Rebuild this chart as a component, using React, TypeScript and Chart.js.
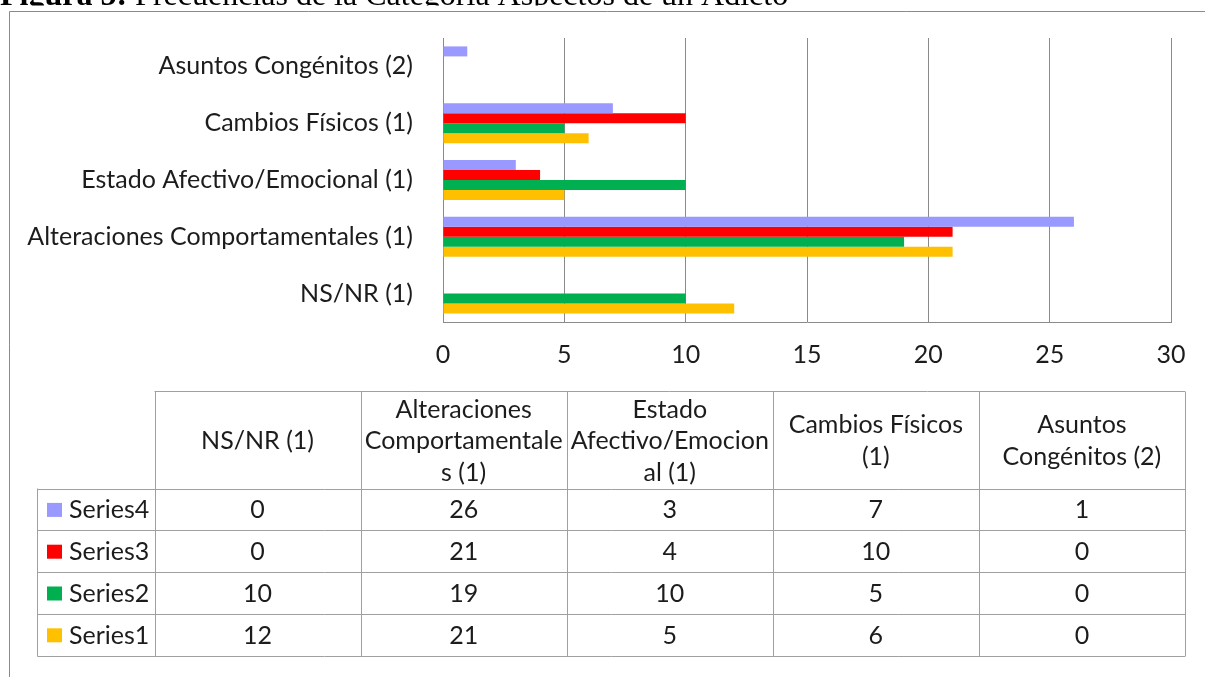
import React, { useEffect, useRef } from "react";
import { Chart, registerables } from "chart.js";

Chart.register(...registerables);

const categories = [
  "NS/NR (1)",
  "Alteraciones Comportamentales (1)",
  "Estado Afectivo/Emocional (1)",
  "Cambios Físicos (1)",
  "Asuntos Congénitos (2)",
];
const headerLines = [
  ["NS/NR (1)"],
  ["Alteraciones", "Comportamentale", "s (1)"],
  ["Estado", "Afectivo/Emocion", "al (1)"],
  ["Cambios Físicos", "(1)"],
  ["Asuntos", "Congénitos (2)"],
];
const seriesNames = ["Series4", "Series3", "Series2", "Series1"];
const series4 = [0, 26, 3, 7, 1];
const series3 = [0, 21, 4, 10, 0];
const series2 = [10, 19, 10, 5, 0];
const series1 = [12, 21, 5, 6, 0];
const seriesColors = ["#9999FF", "#FF0000", "#00B050", "#FFC000"];
const xMin = 0;
const xMax = 30;
const xStep = 5;
const titleBold = "Figura 5:";
const titleRest = " Frecuencias de la Categoría Aspectos de un Adicto";

const FONT = "Lato";
const FS = 25;
const TEXT = "#1c1c1c";
const GRID = "#8a8a8a";
const TABLE_LINE = "#a0a0a0";

const tablePlugin = {
  id: "extras",
  beforeDraw(chart: any) {
    const ctx = chart.ctx;
    ctx.save();
    ctx.beginPath();
    ctx.rect(0, 0, 1205, 5.5);
    ctx.clip();
    ctx.fillStyle = "#000";
    ctx.textBaseline = "alphabetic";
    ctx.textAlign = "left";
    ctx.font = "bold 32px 'Liberation Serif'";
    ctx.fillText(titleBold, 0, 4.5);
    const w = ctx.measureText(titleBold).width;
    ctx.font = "32px 'Liberation Serif'";
    ctx.fillText(titleRest, w, 4.5);
    ctx.restore();

    ctx.save();
    ctx.strokeStyle = GRID;
    ctx.lineWidth = 1;
    ctx.beginPath();
    ctx.moveTo(9.5, 700);
    ctx.lineTo(9.5, 11.5);
    ctx.lineTo(1300, 11.5);
    ctx.stroke();
    ctx.restore();
  },
  afterDraw(chart: any) {
    const ctx = chart.ctx;
    const legLeft = 37.5;
    const dataLeft = 154.5;
    const right = 1185;
    const colW = (right - dataLeft) / categories.length;
    const headTop = 391.5;
    const headBottom = 488.5;
    const rowH = 41.8;
    const rows = [series4, series3, series2, series1];
    const bottom = headBottom + rowH * rows.length;

    ctx.save();
    ctx.strokeStyle = TABLE_LINE;
    ctx.lineWidth = 1;
    ctx.beginPath();
    ctx.moveTo(dataLeft, headTop);
    ctx.lineTo(right, headTop);
    for (let i = 0; i <= rows.length; i++) {
      const y = Math.round(headBottom + rowH * i) + 0.5;
      ctx.moveTo(legLeft, y);
      ctx.lineTo(right, y);
    }
    ctx.moveTo(legLeft, headBottom);
    ctx.lineTo(legLeft, Math.round(bottom) + 0.5);
    for (let c = 0; c <= categories.length; c++) {
      const x = Math.round(dataLeft + colW * c) + 0.5;
      ctx.moveTo(x, headTop);
      ctx.lineTo(x, Math.round(bottom) + 0.5);
    }
    ctx.stroke();

    ctx.fillStyle = TEXT;
    ctx.font = `${FS}px ${FONT}`;
    ctx.textAlign = "center";
    ctx.textBaseline = "middle";
    const headMid = (headTop + headBottom) / 2 + 1;
    const lh = 31.5;
    headerLines.forEach((lines, c) => {
      const cx = dataLeft + colW * (c + 0.5);
      const y0 = headMid - ((lines.length - 1) * lh) / 2;
      lines.forEach((t, k) => ctx.fillText(t, cx, y0 + k * lh));
    });
    rows.forEach((vals, r) => {
      const cy = headBottom + rowH * (r + 0.5) + 1;
      vals.forEach((v, c) => {
        ctx.fillText(String(v), dataLeft + colW * (c + 0.5), cy);
      });
      ctx.fillStyle = seriesColors[r];
      ctx.fillRect(47, cy - 7.5, 15, 14);
      ctx.fillStyle = TEXT;
      ctx.textAlign = "left";
      ctx.fillText(seriesNames[r], 69, cy);
      ctx.textAlign = "center";
    });
    ctx.restore();
  },
};

export default function App() {
  const ref = useRef<HTMLCanvasElement>(null);
  useEffect(() => {
    if (!ref.current) return;
    Chart.defaults.font.family = FONT;
    const seriesData = [series4, series3, series2, series1];
    const chart = new Chart(ref.current, {
      type: "bar",
      data: {
        labels: [...categories].reverse(),
        datasets: seriesData.map((d, i) => ({
          label: seriesNames[i],
          data: [...d].reverse(),
          backgroundColor: seriesColors[i],
          borderWidth: 0,
          categoryPercentage: 0.704,
          barPercentage: 1,
        })),
      },
      options: {
        indexAxis: "y",
        responsive: false,
        animation: false,
        layout: { padding: { left: 10, right: 34, top: 38, bottom: 0 } },
        plugins: {
          legend: { display: false },
          tooltip: { enabled: false },
          title: { display: false },
        },
        scales: {
          x: {
            min: xMin,
            max: xMax,
            ticks: {
              stepSize: xStep,
              padding: 18,
              color: TEXT,
              font: { size: FS, family: FONT },
            },
            grid: { color: GRID, drawTicks: false, lineWidth: 1 },
            border: { display: true, color: GRID },
            afterFit: (s: any) => {
              s.height = 355;
              s.paddingLeft = 0;
              s.paddingRight = 0;
            },
          },
          y: {
            grid: { display: false, drawTicks: false },
            border: { display: true, color: GRID },
            ticks: {
              padding: 30,
              color: TEXT,
              font: { size: FS, family: FONT },
            },
            afterFit: (s: any) => {
              s.width = 433;
              s.paddingTop = 0;
              s.paddingBottom = 0;
            },
          },
        },
      } as any,
      plugins: [tablePlugin],
    });
    return () => chart.destroy();
  }, []);
  return (
    <div style={{ position: "fixed", left: 0, top: 0, width: 1205, height: 677, background: "#fff" }}>
      <canvas ref={ref} width={1205} height={677} style={{ display: "block" }} />
    </div>
  );
}
